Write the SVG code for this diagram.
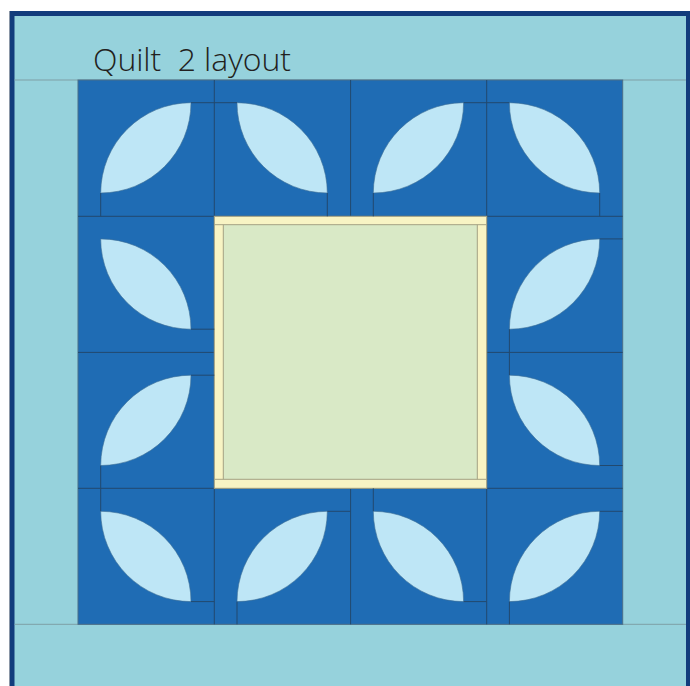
<svg xmlns="http://www.w3.org/2000/svg" width="690" height="686" viewBox="0 0 690 686">
<style>
.band{fill:#96D2DC}
.bandline{stroke:#7E9FA6;stroke-width:1;fill:none}
.blue{fill:#1F6CB4}
.grid{stroke:#22496E;stroke-width:1;fill:none}
.leaf{fill:#BEE6F6;stroke:#3E6E96;stroke-width:0.6}
.stem{stroke:#22496E;stroke-width:1;fill:none}
.yel{fill:#F8F4C4;stroke:#A4A283;stroke-width:1}
.grn{fill:#D9E9C6}
.yline{stroke:#A4A283;stroke-width:1;fill:none}
.title{font-family:'Open Sans',Lato,'Liberation Sans',sans-serif;font-weight:300;font-size:32px;fill:#231F20}
</style>
<rect width="690" height="686" fill="#FFFFFF"/>
<g id="frame">
  <rect x="10" y="11" width="680" height="680" fill="#123C7C"/>
  <line x1="9.5" y1="11" x2="9.5" y2="686" stroke="#8A96A6" stroke-width="1"/>
  <rect x="14.5" y="16" width="671.5" height="675" class="band"/>
  <line x1="14.5" y1="80" x2="686" y2="80" class="bandline"/>
  <line x1="14.5" y1="624.3" x2="686" y2="624.3" class="bandline"/>
  <text x="93" y="71" class="title" textLength="198" lengthAdjust="spacing" xml:space="preserve">Quilt  2 layout</text>
</g>
<g id="blocks">
  <rect x="78" y="80" width="544.7" height="544.3" class="blue" stroke="#4B6F88" stroke-width="1"/>
  <path class="grid" d="M214.3,80V624.3M350.6,80V624.3M486.7,80V624.3M78,216.3H622.7M78,352.4H622.7M78,488.3H622.7"/>
</g>
<g id="center">
  <rect x="214.3" y="216.3" width="272.4" height="272" class="yel"/>
  <rect x="223.3" y="224.7" width="254" height="254.6" class="grn"/>
  <path class="yline" d="M214.3,224.7H486.7M214.3,479.3H486.7M223.3,224.7V479.3M477.3,224.7V479.3"/>
</g>
<g id="leaf-r0c0"><path class="leaf" d="M100.7,193A90.3,90.3 0 0 1 191,102.7A90.3,90.3 0 0 1 100.7,193Z"/></g>
<g id="leaf-r0c1"><path class="leaf" d="M237,102.7A90.3,90.3 0 0 1 327.3,193A90.3,90.3 0 0 1 237,102.7Z"/></g>
<g id="leaf-r0c2"><path class="leaf" d="M373.3,193A90.3,90.3 0 0 1 463.6,102.7A90.3,90.3 0 0 1 373.3,193Z"/></g>
<g id="leaf-r0c3"><path class="leaf" d="M509.4,102.7A90.3,90.3 0 0 1 599.7,193A90.3,90.3 0 0 1 509.4,102.7Z"/></g>
<g id="leaf-r1c0"><path class="leaf" d="M100.7,238.9A90.3,90.3 0 0 1 191,329.2A90.3,90.3 0 0 1 100.7,238.9Z"/></g>
<g id="leaf-r1c3"><path class="leaf" d="M509.4,329.2A90.3,90.3 0 0 1 599.7,238.9A90.3,90.3 0 0 1 509.4,329.2Z"/></g>
<g id="leaf-r2c0"><path class="leaf" d="M100.7,465.5A90.3,90.3 0 0 1 191,375.2A90.3,90.3 0 0 1 100.7,465.5Z"/></g>
<g id="leaf-r2c3"><path class="leaf" d="M509.4,375.2A90.3,90.3 0 0 1 599.7,465.5A90.3,90.3 0 0 1 509.4,375.2Z"/></g>
<g id="leaf-r3c0"><path class="leaf" d="M100.7,511.3A90.3,90.3 0 0 1 191,601.6A90.3,90.3 0 0 1 100.7,511.3Z"/></g>
<g id="leaf-r3c1"><path class="leaf" d="M237,601.6A90.3,90.3 0 0 1 327.3,511.3A90.3,90.3 0 0 1 237,601.6Z"/></g>
<g id="leaf-r3c2"><path class="leaf" d="M373.3,511.3A90.3,90.3 0 0 1 463.6,601.6A90.3,90.3 0 0 1 373.3,511.3Z"/></g>
<g id="leaf-r3c3"><path class="leaf" d="M509.4,601.6A90.3,90.3 0 0 1 599.7,511.3A90.3,90.3 0 0 1 509.4,601.6Z"/></g>
<g id="connectors" class="stem">
  <path d="M191,102.7H237"/>
  <path d="M100.7,193V216.3"/>
  <path d="M327.3,193V216.3"/>
  <path d="M373.3,193V216.3"/>
  <path d="M463.6,102.7H509.4"/>
  <path d="M599.7,193V216.3"/>
  <path d="M191,329.2H214.3"/>
  <path d="M191,375.2H214.3"/>
  <path d="M100.7,465.5V511.3"/>
  <path d="M191,601.6H214.3"/>
  <path d="M237,601.6V624.3"/>
  <path d="M327.3,511.3H350.6"/>
  <path d="M373.3,511.3V488.3"/>
  <path d="M463.6,601.6H486.7"/>
  <path d="M509.4,601.6V624.3"/>
  <path d="M599.7,511.3H622.7"/>
  <path d="M599.7,238.9H622.7"/>
  <path d="M509.4,329.2V375.2"/>
  <path d="M599.7,465.5H622.7"/>
</g>
</svg>
